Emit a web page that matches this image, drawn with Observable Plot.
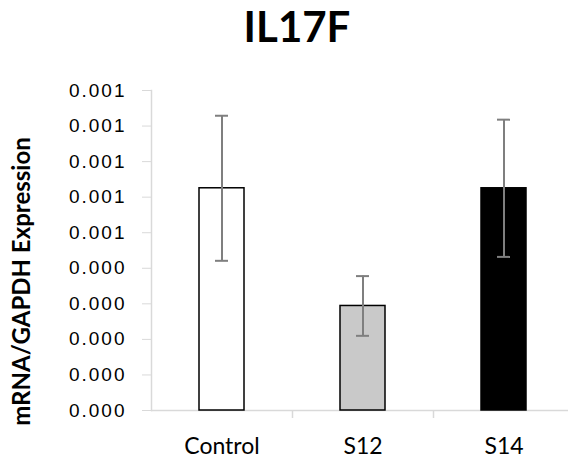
<!DOCTYPE html>
<html><head><meta charset="utf-8">
<script src="https://cdn.jsdelivr.net/npm/d3@7"></script>
<script src="https://cdn.jsdelivr.net/npm/@observablehq/plot@0.6"></script>
<style>
body{margin:0;background:#fff;}
#title{width:568px;height:70px;box-sizing:border-box;padding-top:5px;padding-left:26px;text-align:center;font:bold 42px/42px Lato, sans-serif;color:#000;}
#chart svg{display:block;}
#chart svg g[aria-label="y-axis tick label"]{letter-spacing:2px;}
</style></head><body>
<div id="title">IL17F</div>
<div id="chart"></div>
<script>
const categories = ["Control", "S12", "S14"];
const values = [0.000625, 0.000294, 0.000625];
const errors = [0.000204, 0.000084, 0.000193];
const fills = ["#ffffff", "#c9c9c9", "#000000"];
const yTicks = [0, 0.0001, 0.0002, 0.0003, 0.0004, 0.0005, 0.0006, 0.0007, 0.0008, 0.0009];
const yTickLabels = ["0.000", "0.000", "0.000", "0.000", "0.000", "0.001", "0.001", "0.001", "0.001", "0.001"];
const yTitle = "mRNA/GAPDH Expression";

const data = categories.map((c, i) => ({category: c, value: values[i], error: errors[i], fill: fills[i]}));
const axisColor = "#d9d9d9";

const plot = Plot.plot({
  width: 568, height: 389,
  marginLeft: 151, marginRight: 0, marginTop: 20, marginBottom: 49,
  style: {background: "white", overflow: "hidden"},
  x: {domain: categories, range: [151, 574], paddingInner: 0.684, paddingOuter: 0.342, axis: null},
  y: {domain: [0, 0.0009], axis: null},
  marks: [
    Plot.frame({anchor: "left", stroke: axisColor, strokeWidth: 1.5}),
    Plot.ruleY([0], {stroke: axisColor, strokeWidth: 1.5}),
    Plot.ruleX(categories.slice(1), {x: d => d, y1: 0, y2: 0, dx: -70.5, insetBottom: -8, stroke: axisColor, strokeWidth: 1.5}),
    Plot.axisY({ticks: yTicks, tickFormat: d => yTickLabels[yTicks.indexOf(d)], tickSize: 9, tickPadding: 16,
      stroke: axisColor, fill: "black", fontSize: 19, fontFamily: "Liberation Sans", label: null}),
    Plot.axisX({tickSize: 0, tickPadding: 27, fontSize: 23, fontFamily: "Lato", fill: "black", label: null}),
    Plot.barY(data, {x: "category", y: "value", fill: "fill", stroke: "black", strokeWidth: 1.5}),
    Plot.ruleX(data, {x: "category", y1: d => d.value - d.error, y2: d => d.value + d.error, stroke: "#7f7f7f", strokeWidth: 2}),
    Plot.tickY(data, {x: "category", y: d => d.value + d.error, insetLeft: 16, insetRight: 16, stroke: "#7f7f7f", strokeWidth: 2}),
    Plot.tickY(data, {x: "category", y: d => d.value - d.error, insetLeft: 16, insetRight: 16, stroke: "#7f7f7f", strokeWidth: 2}),
    Plot.text([yTitle], {text: d => d, frameAnchor: "left", textAnchor: "middle", lineAnchor: "middle", rotate: -90, dx: -129, dy: 31, fontSize: 24, fontWeight: "bold", fontFamily: "Lato", fill: "black"})
  ]
});
document.getElementById("chart").appendChild(plot);
</script>
</body></html>
